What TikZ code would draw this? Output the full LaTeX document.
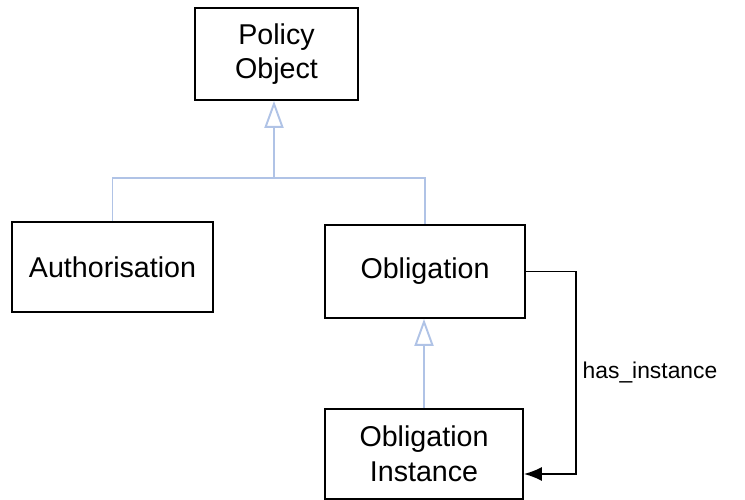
\documentclass[tikz,border=0pt]{standalone}
\usepackage{fontspec}
\setmainfont{Liberation Sans}
\usepackage{tikz}
\usetikzlibrary{arrows.meta, positioning, calc}
\definecolor{genblue}{RGB}{176,195,230}

\begin{document}
\begin{tikzpicture}[
    every node/.style={font=\fontsize{16.3}{19.8}\selectfont},
    classbox/.style={rectangle, draw=black, line width=1pt, align=center, inner sep=0pt},
    genline/.style={draw=genblue, line width=1.1pt},
    inherit/.style={genline, -{Triangle[open, length=0.54cm, width=0.38cm]}},
    assoc/.style={draw=black, line width=1pt, -{Latex[length=0.36cm, width=0.28cm]}}
]
    \useasboundingbox (0,0) rectangle (14.9,-10);
    \node[classbox, minimum width=3.26cm, minimum height=1.84cm] (policy) at (5.53,-1.08) {Policy\\Object};
    \node[classbox, minimum width=4.02cm, minimum height=1.8cm] (auth) at (2.25,-5.34) {Authorisation};
    \node[classbox, minimum width=4.0cm, minimum height=1.86cm] (obl) at (8.5,-5.43) {Obligation};
    \node[classbox, minimum width=3.96cm, minimum height=1.8cm] (inst) at (8.48,-9.08) {Obligation\\Instance};
    \coordinate (join) at (5.48,-3.56);
    \coordinate (bend) at (11.52,-5.4);

    \draw[genline] (auth.north) |- (join) -| (obl.north);
    \draw[inherit] (join) -- (policy.south -| join);
    \draw[inherit] (inst.north) -- (inst.north |- obl.south);
    \draw[assoc] (obl.east) -- (obl.east -| bend) |- ([yshift=-0.4cm]inst.east);
    \node[font=\fontsize{13}{15}\selectfont] (lbl) at (13.0,-7.44) {has\_instance};
\end{tikzpicture}
\end{document}
